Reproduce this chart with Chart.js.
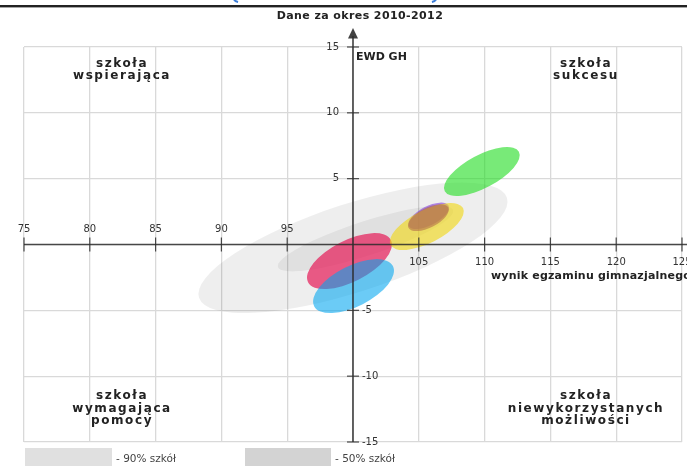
<!DOCTYPE html>
<html>
<head>
<meta charset="utf-8">
<script src="https://cdn.jsdelivr.net/npm/chart.js@4.4.1/dist/chart.umd.min.js"></script>
<style>
    html, body { margin: 0; padding: 0; background: #fff; overflow: hidden; }
    #wrap { position: relative; width: 687px; height: 466px; }
</style>
</head>
<body>
<div id="wrap"><canvas id="chart" width="687" height="466"></canvas></div>
<script>
const chartTitle = 'Dane za okres 2010-2012';
const xAxisTitle = 'wynik egzaminu gimnazjalnego';
const yAxisTitle = 'EWD GH';
const xTickLabels = [75, 80, 85, 90, 95, 105, 110, 115, 120, 125];
const yTickLabels = [15, 10, 5, -5, -10, -15];
const xCross = 100;
const yCross = 0;
const quadrantTopLeft = ['szkoła', 'wspierająca'];
const quadrantTopRight = ['szkoła', 'sukcesu'];
const quadrantBottomLeft = ['szkoła', 'wymagająca', 'pomocy'];
const quadrantBottomRight = ['szkoła', 'niewykorzystanych', 'możliwości'];
const legendLabels = ['- 90% szkół', '- 50% szkół'];

// elipsy: środek (wynik egzaminu, EWD), półosie w jednostkach danych, nachylenie w stopniach
const centerX   = [100.0, 100.95, 99.73, 100.04, 105.75, 105.61, 105.73, 109.79];
const centerY   = [-0.25, 0.45, -1.26, -3.16, 2.18, 1.36, 2.04, 5.54];
const semiMajor = [12.3, 7.0, 3.53, 3.36, 1.70, 3.09, 1.70, 3.19];
const semiMinor = [3.35, 1.3, 1.57, 1.54, 0.72, 1.24, 0.75, 1.25];
const tiltDeg   = [18, 18, 27, 27, 27, 27, 27, 28];

const fillColors = [
    'rgba(0,0,0,0.065)',
    'rgba(0,0,0,0.06)',
    'rgba(228,30,90,0.72)',
    'rgba(0,165,240,0.58)',
    'rgba(130,60,220,0.6)',
    'rgba(240,215,20,0.62)',
    'rgba(170,90,70,0.5)',
    'rgba(30,220,30,0.6)'
];
const legendColors = ['#e0e0e0', '#d3d3d3'];

const ellipsePlugin = {
    id: 'ellipses',
    beforeDatasetsDraw(chart) {
        const { ctx, chartArea, scales: { x, y } } = chart;
        ctx.save();
        ctx.beginPath();
        ctx.rect(chartArea.left, chartArea.top, chartArea.width, chartArea.height);
        ctx.clip();
        chart.data.datasets.forEach((ds, i) => {
            const p = chart.getDatasetMeta(i).data[0];
            const a = tiltDeg[i] * Math.PI / 180;
            const ex = x.getPixelForValue(centerX[i] + semiMajor[i] * Math.cos(a)) - p.x;
            const ey = y.getPixelForValue(centerY[i] + semiMajor[i] * Math.sin(a)) - p.y;
            const fx = x.getPixelForValue(centerX[i] - semiMinor[i] * Math.sin(a)) - p.x;
            const fy = y.getPixelForValue(centerY[i] + semiMinor[i] * Math.cos(a)) - p.y;
            ctx.beginPath();
            ctx.ellipse(p.x, p.y, Math.hypot(ex, ey), Math.hypot(fx, fy), Math.atan2(ey, ex), 0, Math.PI * 2);
            ctx.fillStyle = ds.backgroundColor;
            ctx.fill();
        });
        ctx.restore();
    }
};

function drawLines(ctx, lines, cx, top, step) {
    lines.forEach((t, k) => ctx.fillText(t, cx, top + k * step));
}

const decorPlugin = {
    id: 'decor',
    beforeDraw(chart) {
        const { ctx } = chart;
        ctx.save();
        // ucięty pasek nagłówka strony
        ctx.fillStyle = '#222';
        ctx.fillRect(0, 5, chart.width, 2.4);
        ctx.strokeStyle = '#3b7dd8';
        ctx.lineWidth = 2;
        ctx.beginPath();
        ctx.arc(239, -4, 6, Math.PI * 0.55, Math.PI * 0.95);
        ctx.stroke();
        ctx.beginPath();
        ctx.arc(431, -4, 6, Math.PI * 0.05, Math.PI * 0.45);
        ctx.stroke();
        ctx.restore();
    },
    afterDatasetsDraw(chart) {
        const { ctx, chartArea, scales: { x, y } } = chart;
        const x0 = x.getPixelForValue(xCross);
        const y0 = y.getPixelForValue(yCross);
        ctx.save();

        // osie
        ctx.strokeStyle = 'rgba(45,45,45,0.85)';
        ctx.fillStyle = 'rgba(45,45,45,0.9)';
        ctx.lineWidth = 1.7;
        ctx.beginPath();
        ctx.moveTo(chartArea.left, y0);
        ctx.lineTo(chart.width, y0);
        ctx.stroke();
        ctx.beginPath();
        ctx.moveTo(x0, chartArea.bottom);
        ctx.lineTo(x0, 36);
        ctx.stroke();
        ctx.beginPath();
        ctx.moveTo(x0, 28);
        ctx.lineTo(x0 - 5, 38.5);
        ctx.lineTo(x0 + 5, 38.5);
        ctx.closePath();
        ctx.fill();

        // znaczniki i etykiety
        ctx.lineWidth = 1.2;
        ctx.font = '10px "DejaVu Sans"';
        ctx.fillStyle = '#333';
        ctx.textBaseline = 'middle';
        xTickLabels.forEach(v => {
            const px = x.getPixelForValue(v);
            ctx.beginPath();
            ctx.moveTo(px, y0 - 7);
            ctx.lineTo(px, y0 + 7);
            ctx.stroke();
            ctx.textAlign = 'center';
            ctx.fillText(String(v), px, v < xCross ? y0 - 15 : y0 + 18);
        });
        yTickLabels.forEach(v => {
            const py = y.getPixelForValue(v);
            ctx.beginPath();
            ctx.moveTo(x0 - 6, py);
            ctx.lineTo(x0 + 6, py);
            ctx.stroke();
            if (v > yCross) {
                ctx.textAlign = 'right';
                ctx.fillText(String(v), x0 - 14, py);
            } else {
                ctx.textAlign = 'left';
                ctx.fillText(String(v), x0 + 9, py);
            }
        });

        // tytuły
        ctx.fillStyle = '#222';
        ctx.font = 'bold 11px "DejaVu Sans"';
        ctx.letterSpacing = '0.4px';
        ctx.textAlign = 'center';
        ctx.fillText(chartTitle, x0 + 7, 16);
        ctx.letterSpacing = '0px';
        ctx.textAlign = 'left';
        ctx.fillText(yAxisTitle, x0 + 3, chartArea.top + 10);
        ctx.font = 'bold 11px "DejaVu Sans"';
        ctx.letterSpacing = '0.2px';
        ctx.fillText(xAxisTitle, 491, y0 + 32);

        // opisy ćwiartek
        ctx.font = 'bold 12px "DejaVu Sans"';
        ctx.letterSpacing = '1.6px';
        ctx.textAlign = 'center';
        drawLines(ctx, quadrantTopLeft, chartArea.left + 98, chartArea.top + 17, 12);
        drawLines(ctx, quadrantTopRight, chartArea.right - 96, chartArea.top + 17, 12);
        drawLines(ctx, quadrantBottomLeft, chartArea.left + 98, chartArea.bottom - 46, 12.5);
        drawLines(ctx, quadrantBottomRight, chartArea.right - 96, chartArea.bottom - 46, 12.5);

        // legenda
        ctx.letterSpacing = '0px';
        ctx.font = '10.5px "DejaVu Sans"';
        ctx.textAlign = 'left';
        ctx.fillStyle = legendColors[0];
        ctx.fillRect(25, 448, 87, 20);
        ctx.fillStyle = legendColors[1];
        ctx.fillRect(245, 448, 86, 20);
        ctx.fillStyle = '#444';
        ctx.fillText(legendLabels[0], 116, 459);
        ctx.fillText(legendLabels[1], 335, 459);
        ctx.restore();
    }
};

const datasets = centerX.map((cx, i) => ({
    data: [{ x: cx, y: centerY[i] }],
    backgroundColor: fillColors[i],
    pointRadius: 0,
    pointHoverRadius: 0
}));

new Chart(document.getElementById('chart'), {
    type: 'scatter',
    data: { datasets: datasets },
    options: {
        responsive: false,
        animation: false,
        devicePixelRatio: 1,
        events: [],
        layout: { padding: { left: 24, right: 5, top: 47, bottom: 24 } },
        plugins: { legend: { display: false }, tooltip: { enabled: false } },
        scales: {
            x: {
                type: 'linear', min: 75, max: 125,
                ticks: { stepSize: 5, display: false },
                grid: { color: '#d9d9d9', lineWidth: 1.3, drawTicks: false },
                border: { display: false }
            },
            y: {
                type: 'linear', min: -15, max: 15,
                ticks: { stepSize: 5, display: false },
                grid: { color: '#d9d9d9', lineWidth: 1.3, drawTicks: false },
                border: { display: false }
            }
        }
    },
    plugins: [ellipsePlugin, decorPlugin]
});
</script>
</body>
</html>
